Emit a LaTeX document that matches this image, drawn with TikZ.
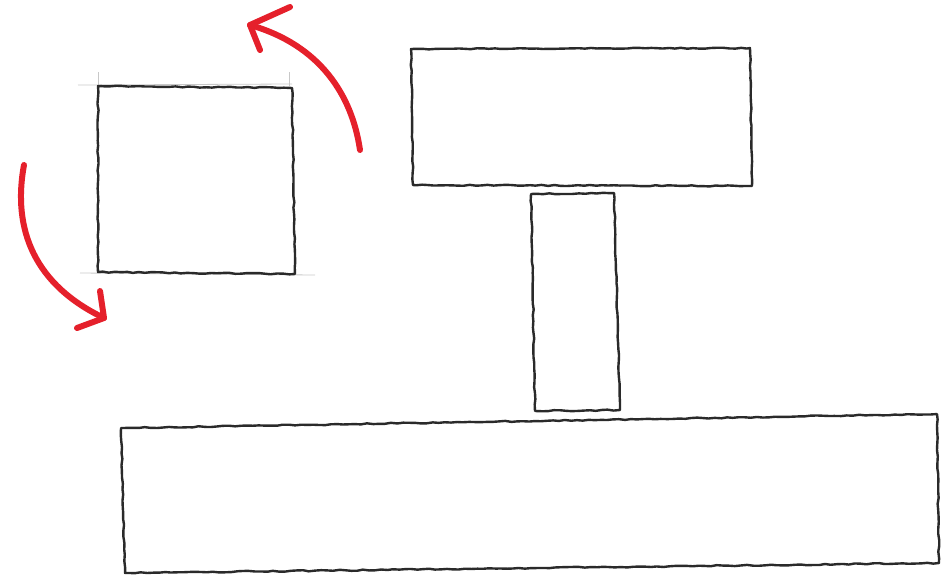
\documentclass[tikz,border=0pt]{standalone}
\usetikzlibrary{decorations.pathmorphing}
\definecolor{pen}{HTML}{2A2A2A}
\definecolor{marker}{HTML}{E5202B}
\definecolor{faint}{HTML}{C8C8C8}
\begin{document}
\begin{tikzpicture}[x=1pt,y=-1pt,
  ink/.style={draw=pen,line width=2.4pt,line join=round,line cap=round,
    decorate,decoration={random steps,segment length=6pt,amplitude=0.6pt}},
  guide/.style={draw=faint,line width=0.8pt},
  redarrow/.style={draw=marker,line width=6pt,line cap=round,line join=round}]
\useasboundingbox (0,0) rectangle (942,579);
% small square with faint construction lines
\draw[guide] (78,85) -- (292,84);
\draw[guide] (80,273) -- (315,275);
\draw[guide] (98,72) -- (98,86);
\draw[guide] (289,72) -- (289,86);
\draw[ink] (98,86) -- (292,88) -- (295,274) -- (98,272) -- cycle;
% top rectangle
\draw[ink] (411,49) -- (750,48) -- (752,186) -- (413,185) -- cycle;
% stem
\draw[ink] (531,194) -- (614,193) -- (620,410) -- (535,411) -- cycle;
% bottom rectangle
\draw[ink] (121,428) -- (937,414) -- (939,563) -- (125,573) -- cycle;
% red arrows
\coordinate (t1) at (360,150);
\coordinate (h1) at (250,25);
\draw[redarrow] (t1) .. controls (352,95) and (320,45) .. (h1);
\draw[redarrow] (290,7) -- (h1) -- (260,50);
\coordinate (t2) at (24,165);
\coordinate (h2) at (104,318);
\draw[redarrow] (t2) .. controls (12,230) and (35,285) .. (h2);
\draw[redarrow] (100,291) -- (h2) -- (77,328);
\end{tikzpicture}
\end{document}
